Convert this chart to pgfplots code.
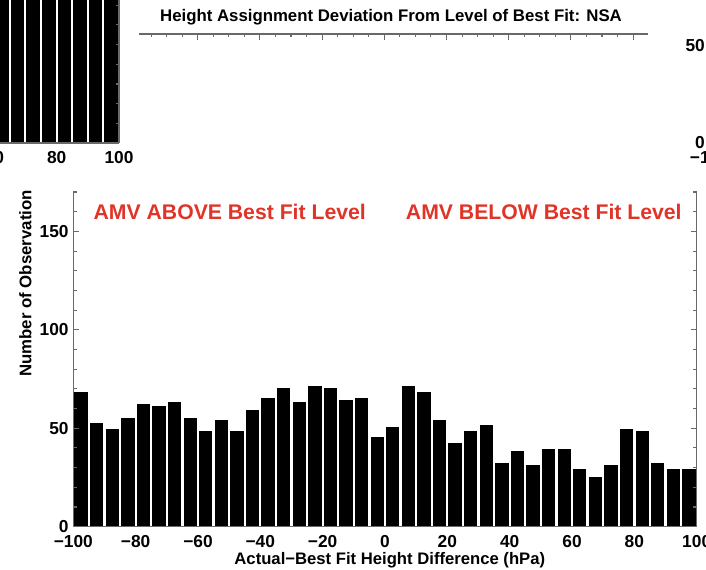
\documentclass[border=0pt]{standalone}
\usepackage{pgfplots}
\pgfplotsset{compat=1.18}
\usepackage{fontspec}
\setmainfont{Liberation Sans}
\definecolor{amvred}{RGB}{224,52,40}
\definecolor{axgray}{RGB}{105,105,105}
\pgfplotsset{
  base/.style={
    scale only axis,
    /pgf/number format/assume math mode=true,
    tick label style={font=\fontsize{13}{13}\selectfont\bfseries, black},
    xticklabel style={yshift=-3pt},
    axis line style={-, axgray, line width=0.9pt},
    every tick/.style={axgray, line width=0.8pt},
    tick align=inside,
    major tick length=4.5pt,
    minor tick length=2.5pt,
  }
}
\begin{document}
\begin{tikzpicture}
\useasboundingbox (0pt,0pt) rectangle (529.5pt,427.5pt);

% ---- fragment of the panel to the upper left ----
\begin{axis}[base,
  at={(-378.3pt,320.25pt)}, anchor=south west,
  width=467.55pt, height=118.05pt,
  xmin=-100, xmax=100, ymin=0, ymax=80,
  axis x line*=bottom, axis y line*=box,
  xtick={-100,-80,...,100},
  xticklabels={−100,−80,−60,−40,−20,0,20,40,60,80,100},
  xtick style={draw=none},
  ytick={0,10,...,80}, yticklabels={},
  major tick length=2.5pt,
  ytick pos=both, yticklabel pos=left,
  axis on top,
]
\addplot[ybar interval, fill=black, draw=white, line width=1.5pt] coordinates {
(50,120) (55,120) (60,120) (65,120) (70,120) (75,120) (80,120) (85,120) (90,120) (95,120) (100,120)};
\end{axis}

% ---- top axis of the middle panel ----
\begin{axis}[base,
  at={(104.25pt,402pt)}, anchor=south west,
  width=381.75pt, height=20pt,
  xmin=-98.87, xmax=64.8, ymin=0, ymax=1,
  axis x line*=bottom, axis y line=none,
  xtick={-80,-60,...,60}, xticklabels={},
  minor xtick={-95,-90,-85,-75,-70,-65,-55,-50,-45,-35,-30,-25,-15,-10,-5,5,10,15,25,30,35,45,50,55},
  tick align=outside,
  major tick length=4.5pt, minor tick length=2.4pt,
]
\end{axis}
\node[anchor=base, font=\fontsize{12.6}{12.6}\selectfont\bfseries] at (293.25pt,411.2pt)
  {Height Assignment Deviation From Level of Best Fit: NSA};

% ---- fragment of the panel to the right ----
\begin{axis}[base,
  at={(532.125pt,320.25pt)}, anchor=south west,
  width=300pt, height=116.4pt,
  xmin=-100, xmax=100, ymin=0, ymax=80,
  xtick={-100,-80,...,100},
  xticklabels={−100,−80,−60,−40,−20,0,20,40,60,80,100},
  ytick={0,50},
]
\end{axis}

% ---- main panel ----
\begin{axis}[base,
  at={(54.975pt,32.475pt)}, anchor=south west,
  width=467.55pt, height=251.0pt,
  xmin=-100, xmax=100, ymin=0, ymax=170,
  axis x line*=bottom, axis y line*=box,
  xtick={-100,-80,...,100},
  xticklabels={−100,−80,−60,−40,−20,0,20,40,60,80,100},
  xtick style={draw=none},
  ytick={0,50,100,150},
  minor ytick={10,20,30,40,60,70,80,90,110,120,130,140,160,170},
  ytick pos=both, yticklabel pos=left,
  axis on top,
]
\addplot[ybar interval, fill=black, draw=white, line width=1.7pt] coordinates {
(-100,69) (-95,53) (-90,50) (-85,56) (-80,63) (-75,62) (-70,64) (-65,56)
(-60,49) (-55,55) (-50,49) (-45,60) (-40,66) (-35,71) (-30,64) (-25,72)
(-20,71) (-15,65) (-10,66) (-5,46) (0,51) (5,72) (10,69) (15,55)
(20,43) (25,49) (30,52) (35,33) (40,39) (45,32) (50,40) (55,40)
(60,30) (65,26) (70,32) (75,50) (80,49) (85,33) (90,30) (95,30) (100,30)};
\end{axis}

\node[anchor=base, font=\fontsize{15.9}{15.9}\selectfont\bfseries, text=amvred] at (172.3pt,262.5pt)
  {AMV ABOVE Best Fit Level};
\node[anchor=base, font=\fontsize{15.9}{15.9}\selectfont\bfseries, text=amvred] at (407.85pt,262.5pt)
  {AMV BELOW Best Fit Level};
\node[anchor=base, font=\fontsize{12.5}{12.5}\selectfont\bfseries] at (292.35pt,3.75pt)
  {Actual−Best Fit Height Difference (hPa)};
\node[anchor=base, rotate=90, font=\fontsize{12.6}{12.6}\selectfont\bfseries] at (23.6pt,214.9pt)
  {Number of Observation};
\end{tikzpicture}
\end{document}
